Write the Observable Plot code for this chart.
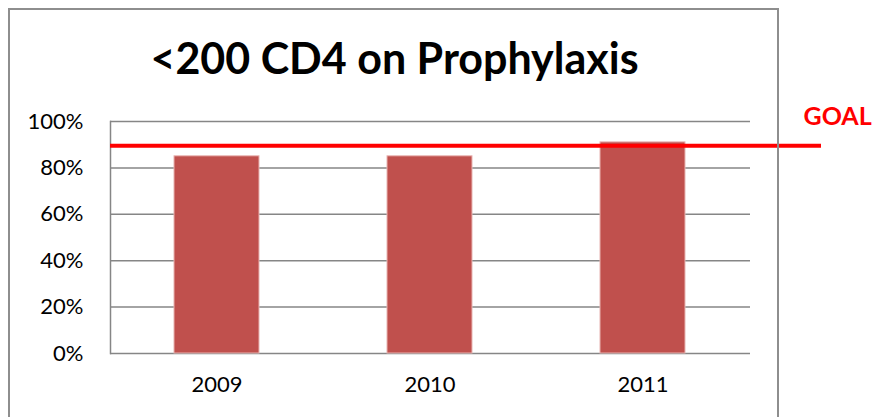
<!DOCTYPE html>
<html><head><meta charset="utf-8">
<script src="https://cdn.jsdelivr.net/npm/d3@7"></script>
<script src="https://cdn.jsdelivr.net/npm/@observablehq/plot@0.6"></script>
<style>
body{margin:0;background:#fff;overflow:hidden}
#wrap{position:relative;width:874px;height:417px}
#border{position:absolute;left:8px;top:8px;width:771px;height:430px;border:2px solid #8e8e8e;box-sizing:border-box;pointer-events:none}
</style>
</head><body><div id="wrap"><div id="chart"></div><div id="border"></div></div>
<script>
const years = ["2009", "2010", "2011"];
const rates = [0.85, 0.85, 0.91];
const goal = 0.895;
const yTicks = [0, 0.2, 0.4, 0.6, 0.8, 1.0];
const title = "<200 CD4 on Prophylaxis";
const goalLabel = "GOAL";

const data = years.map((y, i) => ({year: y, rate: rates[i]}));

const chart = Plot.plot({
  width: 874, height: 417,
  marginLeft: 110, marginRight: 124, marginTop: 121, marginBottom: 64,
  style: {fontFamily: "Lato, sans-serif", fontSize: "22px", color: "#000", background: "#fff", overflow: "visible"},
  x: {domain: years, paddingInner: 0.6, paddingOuter: 0.3, label: null, tickSize: 0, tickPadding: 23},
  y: {domain: [0, 1], ticks: yTicks, tickFormat: d3.format(".0%"), label: null, tickSize: 0, tickPadding: 27},
  marks: [
    Plot.ruleY(yTicks, {stroke: "#868686", strokeWidth: 1.5}),
    Plot.frame({anchor: "left", stroke: "#868686", strokeWidth: 1.5}),
    Plot.barY(data, {x: "year", y: "rate", fill: "#C0504D", stroke: "#E8B4B2", strokeWidth: 1}),
    Plot.ruleY([goal], {stroke: "#FF0000", strokeWidth: 4, insetRight: -71}),
    Plot.text([title], {frameAnchor: "top", dx: -36, dy: -61, lineAnchor: "middle", fontSize: 43, fontWeight: "bold", fill: "#000"}),
    Plot.text([goalLabel], {frameAnchor: "top-right", textAnchor: "start", lineAnchor: "middle", dx: 53, dy: -5, fontSize: 25, fontWeight: "bold", fill: "#FF0000"})
  ]
});
document.getElementById("chart").appendChild(chart);
</script>
</body></html>
